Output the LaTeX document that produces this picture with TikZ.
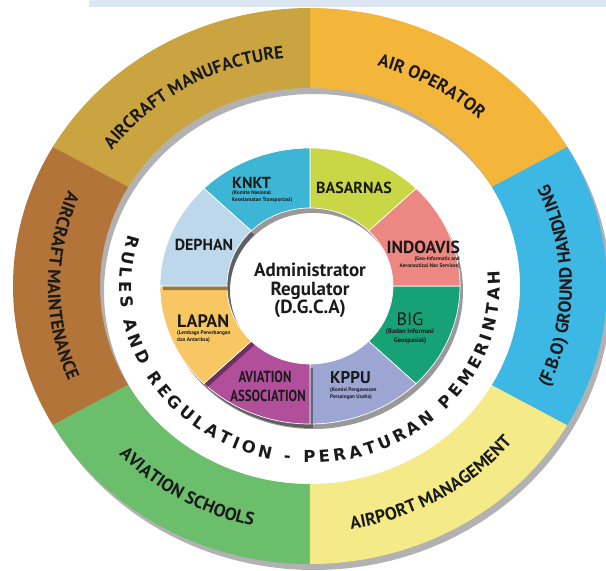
\documentclass[tikz,border=0pt]{standalone}
\usepackage{fontspec}
\setmainfont{PT Sans}
\newfontfamily\bandfont{DejaVu Sans}
\usetikzlibrary{decorations.text}
\definecolor{cBar}{HTML}{DCE6F2}
\definecolor{cManu}{HTML}{C9A440}
\definecolor{cOper}{HTML}{F3B53A}
\definecolor{cGround}{HTML}{3DB7E4}
\definecolor{cAirport}{HTML}{F4EA87}
\definecolor{cSchool}{HTML}{6BBE6C}
\definecolor{cMaint}{HTML}{B3743A}
\definecolor{cKNKT}{HTML}{3DB6D5}
\definecolor{cBasar}{HTML}{C9D646}
\definecolor{cIndo}{HTML}{EC8881}
\definecolor{cBIG}{HTML}{17A276}
\definecolor{cKPPU}{HTML}{9DA5D3}
\definecolor{cAvia}{HTML}{B24F9B}
\definecolor{cLapan}{HTML}{F8C763}
\definecolor{cDephan}{HTML}{BDD8EA}
\definecolor{cInk}{HTML}{1A1A1A}
\newcommand{\fsz}[1]{\fontsize{#1}{#1}\selectfont}
\newcommand{\ringsec}[7]{\path[#1] (#2:#4pt and #5pt) arc[start angle=#2,end angle=#3,x radius=#4pt,y radius=#5pt] -- (#3:#6pt and #7pt) arc[start angle=#3,end angle=#2,x radius=#6pt,y radius=#7pt] -- cycle;}
\tikzset{
  outerseg/.style={fill=#1},
  donutseg/.style={fill=#1, draw=white, line width=0.7pt},
  segshadow/.style={fill=black, opacity=0.38, shift={(3pt,-4pt)}},
  bigname/.style={font=\bfseries\fsz{16}, text=cInk, inner sep=0pt},
  subname/.style={font=\bfseries\fsz{5.3}, text=cInk, inner sep=0pt},
  centertext/.style={font=\bfseries\fsz{19}, text=cInk, inner sep=0pt, anchor=base},
  ringlabel/.style={decorate, decoration={text along path, text align=center, text color=cInk, text={|\bfseries\fsz{17.8}|#1}}},
}
\begin{document}
\begin{tikzpicture}[x=1pt,y=1pt]
\useasboundingbox (-310pt,-285pt) rectangle (296pt,286pt);
% top bar
\fill[cBar] (-221pt,279pt) rectangle (296pt,286pt);
% outer ring shadow
\fill[black, opacity=0.3, even odd rule, shift={(4pt,-6pt)}] (0,0) ellipse [x radius=297pt, y radius=278pt] (0,0) ellipse [x radius=210pt, y radius=198pt];
% outer ring
\ringsec{outerseg=cOper}{30}{90}{297}{278}{210}{198}
\ringsec{outerseg=cManu}{90}{150}{297}{278}{210}{198}
\ringsec{outerseg=cMaint}{150}{210}{297}{278}{210}{198}
\ringsec{outerseg=cSchool}{210}{270}{297}{278}{210}{198}
\ringsec{outerseg=cAirport}{270}{330}{297}{278}{210}{198}
\ringsec{outerseg=cGround}{-30}{30}{297}{278}{210}{198}
% outer labels
\path[ringlabel={AIRCRAFT MANUFACTURE}] (150:246pt and 229pt) arc[start angle=150, end angle=90, x radius=246pt, y radius=229pt];
\path[ringlabel={AIR OPERATOR}] (90:246pt and 229pt) arc[start angle=90, end angle=30, x radius=246pt, y radius=229pt];
\path[ringlabel={(F.B.O) GROUND HANDLING}] (-30:262pt and 246pt) arc[start angle=-30, end angle=30, x radius=262pt, y radius=246pt];
\path[ringlabel={AIRPORT MANAGEMENT}] (270:262pt and 246pt) arc[start angle=270, end angle=330, x radius=262pt, y radius=246pt];
\path[ringlabel={AVIATION SCHOOLS}] (210:262pt and 246pt) arc[start angle=210, end angle=270, x radius=262pt, y radius=246pt];
\path[ringlabel={AIRCRAFT MAINTENANCE}] (150:262pt and 246pt) arc[start angle=150, end angle=210, x radius=262pt, y radius=246pt];
% band text
\path[decorate, decoration={text along path, text align={fit to path}, text color=cInk, text={|\bandfont\bfseries\fsz{16.5}|RULES AND REGULATION - PERATURAN PEMERINTAH}}] (163:190pt and 177pt) arc[start angle=163, end angle=365, x radius=190pt, y radius=177pt];
% donut shadow and centre
\fill[black, opacity=0.4] (3pt,-5pt) ellipse [x radius=150pt, y radius=138pt];
\fill[white] (3pt,-5pt) ellipse [x radius=83pt, y radius=78pt];
% donut segments
\ringsec{donutseg=cKPPU}{270}{315}{150}{138}{83}{78}
\ringsec{donutseg=cBIG}{315}{360}{150}{138}{83}{78}
\ringsec{donutseg=cIndo}{0}{45}{150}{138}{83}{78}
\ringsec{donutseg=cBasar}{45}{90}{150}{138}{83}{78}
\ringsec{donutseg=cKNKT}{90}{135}{150}{138}{83}{78}
\ringsec{segshadow}{225}{270}{150}{138}{83}{78}
\ringsec{donutseg=cAvia}{225}{270}{150}{138}{83}{78}
\ringsec{segshadow}{180}{225}{150}{138}{83}{78}
\ringsec{donutseg=cLapan}{180}{225}{150}{138}{83}{78}
\ringsec{segshadow}{135}{180}{150}{138}{83}{78}
\ringsec{donutseg=cDephan}{135}{180}{150}{138}{83}{78}
% centre text
\node[centertext] (adm) at (0pt,10pt) {Administrator};
\node[centertext] (reg) at (0pt,-9pt) {Regulator};
\node[centertext] (dgca) at (0pt,-27pt) {(D.G.C.A)};
% donut labels
\node[bigname, anchor=base west] (knkt) at (-78pt,98pt) {KNKT};
\node[subname, anchor=base west] (knkt1) at (-78pt,92pt) {(Komite Nasional};
\node[subname, anchor=base west] (knkt2) at (-78pt,85pt) {Keselamatan Transportasi)};
\node[bigname, anchor=base] (basarnas) at (44pt,93pt) {BASARNAS};
\node[bigname, anchor=base] (dephan) at (-106pt,36pt) {DEPHAN};
\node[bigname, font=\bfseries\fsz{17.5}, anchor=base east] (indoavis) at (150pt,33pt) {INDOAVIS};
\node[subname, anchor=base east] (indo1) at (150pt,26pt) {(Geo-Informatic and};
\node[subname, anchor=base east] (indo2) at (150pt,19pt) {Aeronautical Nav Services)};
\node[bigname, font=\fsz{18}, anchor=base] (big) at (100pt,-39pt) {BIG};
\node[subname, font=\bfseries\fsz{6.6}, anchor=base] (big1) at (100pt,-47pt) {(Badan Informasi};
\node[subname, font=\bfseries\fsz{6.6}, anchor=base] (big2) at (100pt,-56pt) {Geospasial)};
\node[bigname, font=\bfseries\fsz{17}, anchor=base west] (kppu) at (20pt,-97pt) {KPPU};
\node[subname, anchor=base west] (kppu1) at (20pt,-105pt) {(Komisi Pengawasan};
\node[subname, anchor=base west] (kppu2) at (20pt,-112pt) {Persaingan Usaha)};
\node[bigname, anchor=base] (avia1) at (-45pt,-96pt) {\scalebox{0.8}[1]{AVIATION}};
\node[bigname, anchor=base] (avia2) at (-42pt,-115pt) {\scalebox{0.8}[1]{ASSOCIATION}};
\node[bigname, font=\bfseries\fsz{18}, anchor=base west] (lapan) at (-133pt,-41pt) {LAPAN};
\node[subname, anchor=base west] (lapan1) at (-133pt,-48pt) {(Lembaga Penerbangan};
\node[subname, anchor=base west] (lapan2) at (-133pt,-55pt) {dan Antariksa)};
\end{tikzpicture}
\end{document}
